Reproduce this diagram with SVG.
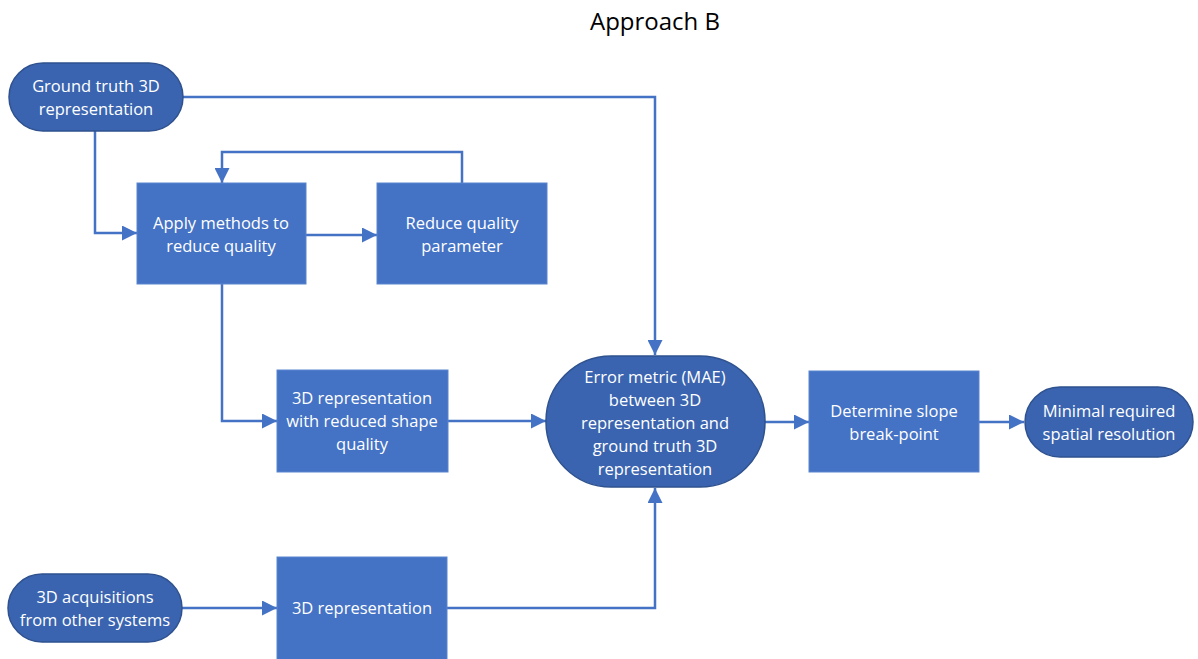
<svg xmlns="http://www.w3.org/2000/svg" width="1198" height="659" viewBox="0 0 1198 659">
<defs>
<marker id="ah" viewBox="0 0 10 10" refX="10" refY="5" markerWidth="6" markerHeight="6" markerUnits="strokeWidth" orient="auto">
<path d="M0,0 L10,5 L0,10 z" fill="#4472C4"/>
</marker>
<style>
.box{fill:#4472C4;stroke:#5B85CF;stroke-width:1}
.term{fill:#3A64B0;stroke:#2F528F;stroke-width:1.5}
.t{font-family:"Open Sans","Liberation Sans",Arial,sans-serif;font-size:16.5px;fill:#FFFFFF;text-anchor:middle}
.title{font-family:"Open Sans","Liberation Sans",Arial,sans-serif;font-size:24px;fill:#000000;text-anchor:middle}
.c{fill:none;stroke:#4472C4;stroke-width:2.5;marker-end:url(#ah)}
</style>
</defs>
<rect width="1198" height="659" fill="#FFFFFF"/>
<text class="title" x="655" y="30">Approach B</text>
<g id="connectors">
<path class="c" d="M183,97 H655 V355"/>
<path class="c" d="M95,131 V233 H137"/>
<path class="c" d="M306,235 H377"/>
<path class="c" d="M462,183 V152 H222 V183"/>
<path class="c" d="M222,284 V421 H277"/>
<path class="c" d="M448,421 H546"/>
<path class="c" d="M765,422 H809"/>
<path class="c" d="M979,422 H1024"/>
<path class="c" d="M182,608 H277"/>
<path class="c" d="M447,608 H655 V488"/>
</g>
<g id="ground-truth">
<rect class="term" x="9" y="63" width="174" height="68" rx="34"/>
<text class="t" x="96" y="92">Ground truth 3D</text>
<text class="t" x="96" y="115">representation</text>
</g>
<g id="apply-methods">
<rect class="box" x="137" y="183" width="169" height="101"/>
<text class="t" x="221" y="229">Apply methods to</text>
<text class="t" x="221" y="252">reduce quality</text>
</g>
<g id="reduce-param">
<rect class="box" x="377" y="183" width="170" height="101"/>
<text class="t" x="462" y="229">Reduce quality</text>
<text class="t" x="462" y="252">parameter</text>
</g>
<g id="reduced-rep">
<rect class="box" x="277" y="370" width="171" height="102"/>
<text class="t" x="362" y="404">3D representation</text>
<text class="t" x="362" y="427">with reduced shape</text>
<text class="t" x="362" y="450">quality</text>
</g>
<g id="error-metric">
<rect class="term" x="546" y="356" width="219" height="131" rx="65"/>
<text class="t" x="655" y="383">Error metric (MAE)</text>
<text class="t" x="655" y="406">between 3D</text>
<text class="t" x="655" y="429">representation and</text>
<text class="t" x="655" y="452">ground truth 3D</text>
<text class="t" x="655" y="475">representation</text>
</g>
<g id="slope">
<rect class="box" x="809" y="371" width="170" height="101"/>
<text class="t" x="894" y="417">Determine slope</text>
<text class="t" x="894" y="440">break-point</text>
</g>
<g id="minimal">
<rect class="term" x="1025" y="387" width="168" height="70" rx="35"/>
<text class="t" x="1109" y="417">Minimal required</text>
<text class="t" x="1109" y="440">spatial resolution</text>
</g>
<g id="acquisitions">
<rect class="term" x="8" y="574" width="174" height="68" rx="34"/>
<text class="t" x="95" y="603">3D acquisitions</text>
<text class="t" x="95" y="626">from other systems</text>
</g>
<g id="plain-rep">
<rect class="box" x="277" y="557" width="170" height="110"/>
<text class="t" x="362" y="614">3D representation</text>
</g>
</svg>
